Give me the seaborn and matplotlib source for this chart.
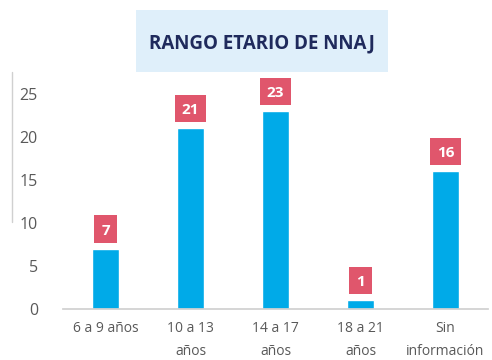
import matplotlib
matplotlib.use("Agg")
import matplotlib.pyplot as plt
import matplotlib.transforms as mtransforms
from matplotlib.patches import Rectangle
from matplotlib.lines import Line2D
import seaborn as sns
import pandas as pd

categories = ["6 a 9 años", "10 a 13\naños", "14 a 17\naños", "18 a 21\naños", "Sin\ninformación"]
values = [7, 21, 23, 1, 16]
yticks = [0, 5, 10, 15, 20, 25]

sns.set_theme(style="white")
plt.rcParams["font.family"] = ["Open Sans", "DejaVu Sans"]

df = pd.DataFrame({"rango": categories, "nnaj": values})

fig = plt.figure(figsize=(4.92, 3.6), dpi=100)
ax = fig.add_axes([0.128, 0.142, 0.864, 0.645])

sns.barplot(data=df, x="rango", y="nnaj", color="#00AAE8", width=0.32,
            saturation=1, ax=ax)

ax.set_ylim(0, 27)
ax.set_xlim(-0.5, 4.5)
ax.set_yticks(yticks)
ax.set_xlabel("")
ax.set_ylabel("")
for s in ["top", "right", "left"]:
    ax.spines[s].set_visible(False)
ax.spines["bottom"].set_color("#D0D0D0")
ax.tick_params(axis="y", length=0, labelsize=11.5, labelcolor="#595959", pad=18)
ax.tick_params(axis="x", length=0, labelsize=10, labelcolor="#595959", pad=9)
for lbl in ax.get_xticklabels():
    lbl.set_linespacing(1.65)

# value labels: red boxes sized in points, anchored to the top of each bar
gap_pt, box_h_pt = 4.3, 19.6
for i, v in enumerate(values):
    label = str(v)
    box_w_pt = 10.0 + 6.2 * len(label)
    anchor = (mtransforms.Affine2D().scale(1 / 72)
              + fig.dpi_scale_trans
              + mtransforms.ScaledTranslation(i, v, ax.transData))
    ax.add_patch(Rectangle((-box_w_pt / 2, gap_pt), box_w_pt, box_h_pt,
                           transform=anchor, facecolor="#E0566C",
                           edgecolor="none", clip_on=False, zorder=3))
    ax.annotate(label, xy=(i, v), xytext=(0, gap_pt + box_h_pt / 2 - 4.0),
                textcoords="offset points", ha="center", va="baseline",
                fontsize=11, fontweight="bold", color="white", zorder=4,
                annotation_clip=False)

# title panel
fig.patches.append(Rectangle((0.276, 0.80), 0.512, 0.172, transform=fig.transFigure,
                             facecolor="#DFEFFA", edgecolor="none", zorder=0))
fig.text(0.532, 0.878, "RANGO ETARIO DE NNAJ", ha="center", va="center",
         fontsize=13.5, fontweight="bold", color="#1F2A5C")

# thin grey rule on the left edge
fig.lines.append(Line2D([0.024, 0.024], [0.383, 0.80], transform=fig.transFigure,
                        color="#D0D0D0", linewidth=1))

fig.savefig("out.png", dpi=100)
